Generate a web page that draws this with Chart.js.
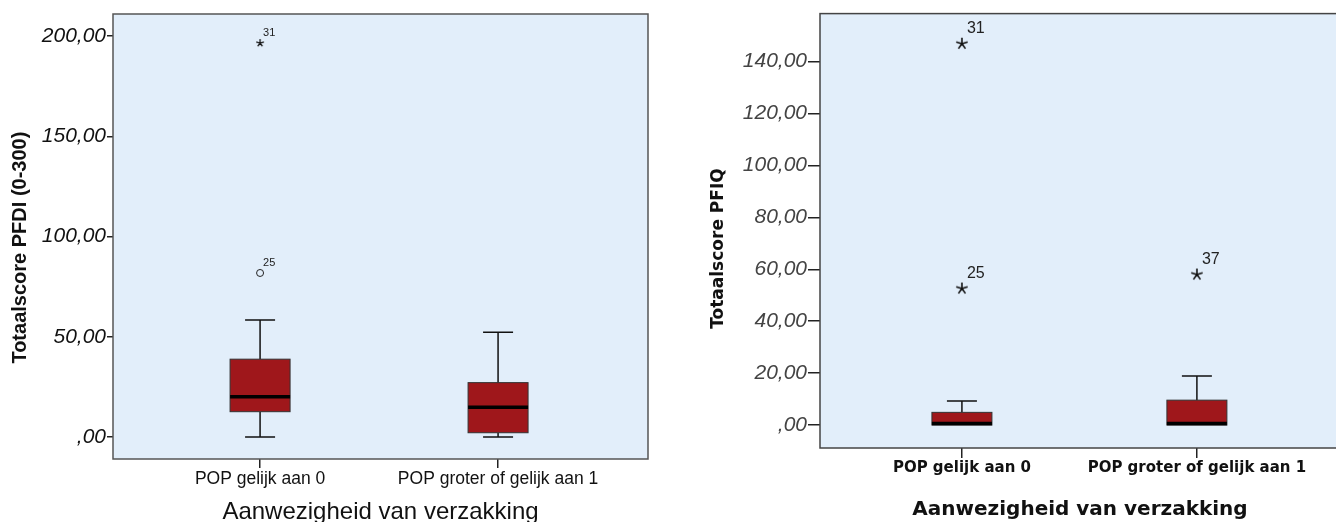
<!doctype html>
<html lang="nl">
<head>
  <meta charset="utf-8">
  <title>Totaalscore PFDI en PFIQ naar aanwezigheid van verzakking</title>
  <style>
    * {
      margin: 0;
      padding: 0;
    }
    body {
      width: 1336px;
      height: 522px;
      overflow: hidden;
      background: white;
      position: relative;
    }
    canvas {
      position: absolute;
      top: 0;
    }
    #pfdiChart { left: 0; }
    #pfiqChart { left: 668px; }
  </style>
</head>
<body>
  <canvas id="pfdiChart" width="668" height="522"></canvas>
  <canvas id="pfiqChart" width="679" height="522"></canvas>

  <script src="https://cdn.jsdelivr.net/npm/chart.js"></script>
  <script>
    // categories (x axis)
    const categories = ['POP gelijk aan 0', 'POP groter of gelijk aan 1'];

    // PFDI (0-300), left chart
    const pfdiMin = [0, 0];
    const pfdiQ1 = [12.6, 2.1];
    const pfdiMedian = [20.1, 14.8];
    const pfdiQ3 = [38.8, 27.1];
    const pfdiMax = [58.4, 52.2];
    const pfdiOutlierCat = [1, 1];
    const pfdiOutlierValues = [196.5, 81.8];
    const pfdiOutlierCases = ['31', '25'];
    const pfdiOutlierExtreme = [true, false];
    const pfdiTicks = [0, 50, 100, 150, 200];

    // PFIQ, right chart
    const pfiqMin = [0, 0];
    const pfiqQ1 = [0, 0];
    const pfiqMedian = [0, 0];
    const pfiqQ3 = [4.9, 9.6];
    const pfiqMax = [9.3, 18.9];
    const pfiqOutlierCat = [1, 1, 2];
    const pfiqOutlierValues = [146.9, 52.6, 58.0];
    const pfiqOutlierCases = ['31', '25', '37'];
    const pfiqOutlierExtreme = [true, true, true];
    const pfiqTicks = [0, 20, 40, 60, 80, 100, 120, 140];

    const plotBg = '#e2eefa';
    const boxColor = '#9f171b';
    const nbsp = n => '\u00a0'.repeat(n);

    // SPSS style number format: 50,00 and ,00
    const fmt = v => v === 0 ? ',00' : v.toFixed(2).replace('.', ',');

    // asterisk used for extreme values
    function starImage(r, lw) {
      const c = document.createElement('canvas');
      c.width = c.height = Math.ceil(2 * r + 2);
      const g = c.getContext('2d');
      g.strokeStyle = '#111';
      g.lineWidth = lw;
      g.beginPath();
      for (let k = 0; k < 5; k++) {
        const a = -Math.PI / 2 + k * 2 * Math.PI / 5;
        g.moveTo(c.width / 2, c.height / 2);
        g.lineTo(c.width / 2 + r * Math.cos(a), c.height / 2 + r * Math.sin(a));
      }
      g.stroke();
      return c;
    }

    // draws background, boxes, whiskers, case labels and frame with the chart scales
    function boxPlotPlugin(stats, opt) {
      return {
        id: 'boxPlot',
        beforeDraw(chart) {
          const { ctx, chartArea: a } = chart;
          ctx.save();
          ctx.fillStyle = plotBg;
          ctx.fillRect(a.left, a.top, a.right - a.left, a.bottom - a.top);
          ctx.restore();
        },
        beforeDatasetsDraw(chart) {
          const { ctx, scales: { x, y } } = chart;
          ctx.save();
          stats.median.forEach((m, i) => {
            const cx = x.getPixelForValue(i + 1);
            const half = 30, cap = 15;
            const yMin = y.getPixelForValue(stats.min[i]);
            const yQ1 = y.getPixelForValue(stats.q1[i]);
            const yMed = y.getPixelForValue(m);
            const yQ3 = y.getPixelForValue(stats.q3[i]);
            const yMax = y.getPixelForValue(stats.max[i]);

            ctx.strokeStyle = '#111';
            ctx.lineWidth = 1.5;
            ctx.beginPath();
            ctx.moveTo(cx, yQ3); ctx.lineTo(cx, yMax);
            ctx.moveTo(cx - cap, yMax); ctx.lineTo(cx + cap, yMax);
            if (yQ1 !== yMin) {
              ctx.moveTo(cx, yQ1); ctx.lineTo(cx, yMin);
              ctx.moveTo(cx - cap, yMin); ctx.lineTo(cx + cap, yMin);
            }
            ctx.stroke();

            ctx.fillStyle = boxColor;
            ctx.fillRect(cx - half, yQ3, 2 * half, yQ1 - yQ3);
            ctx.strokeStyle = '#333';
            ctx.lineWidth = 1;
            ctx.strokeRect(cx - half, yQ3, 2 * half, yQ1 - yQ3);

            ctx.strokeStyle = '#000';
            ctx.lineWidth = 3.5;
            ctx.beginPath();
            ctx.moveTo(cx - half, yMed - (yMed === yQ1 ? 1.5 : 0));
            ctx.lineTo(cx + half, yMed - (yMed === yQ1 ? 1.5 : 0));
            ctx.stroke();
          });
          ctx.restore();
        },
        afterDatasetsDraw(chart) {
          const { ctx, chartArea: a } = chart;
          const meta = chart.getDatasetMeta(0);
          ctx.save();
          ctx.font = opt.labelFont;
          ctx.fillStyle = '#222';
          ctx.textBaseline = 'middle';
          meta.data.forEach((pt, i) => {
            ctx.fillText(opt.cases[i], pt.x + opt.dx, pt.y + opt.dy);
          });
          ctx.strokeStyle = opt.frame;
          ctx.lineWidth = 1.5;
          ctx.strokeRect(a.left, a.top, a.right - a.left, a.bottom - a.top);
          ctx.restore();
        }
      };
    }

    function makeChart(id, s) {
      const config = {
        type: 'scatter',
        data: {
          datasets: [{
            data: s.outCat.map((c, i) => ({ x: c, y: s.outVal[i] })),
            pointStyle: s.extreme.map(e => e ? s.star : 'circle'),
            pointRadius: s.pointRadius,
            borderColor: '#222',
            borderWidth: 1,
            backgroundColor: 'rgba(0,0,0,0)'
          }]
        },
        options: {
          responsive: false,
          animation: false,
          layout: { padding: s.padding },
          plugins: {
            legend: { display: false },
            tooltip: { enabled: false }
          },
          scales: {
            x: {
              type: 'linear',
              min: s.xMin,
              max: s.xMax,
              afterBuildTicks: sc => { sc.ticks = [1, 2].map(v => ({ value: v })); },
              afterFit: sc => { sc.height = s.xHeight; },
              ticks: {
                callback: v => categories[v - 1],
                font: s.xTickFont,
                color: '#111',
                padding: 1,
                maxRotation: 0,
                autoSkip: false
              },
              grid: { drawOnChartArea: false, drawTicks: true, tickLength: s.xTickLen, color: '#222', lineWidth: 1.5 },
              border: { display: false },
              title: {
                display: true,
                text: 'Aanwezigheid van verzakking',
                font: s.xTitleFont,
                color: '#111',
                padding: { top: 0, bottom: s.xTitlePad }
              }
            },
            y: {
              type: 'linear',
              min: s.yMin,
              max: s.yMax,
              afterBuildTicks: sc => { sc.ticks = s.ticks.map(v => ({ value: v })); },
              afterFit: sc => { sc.width = s.yWidth; },
              ticks: {
                callback: fmt,
                font: s.yTickFont,
                color: s.yTickColor,
                padding: 1
              },
              grid: { drawOnChartArea: false, drawTicks: true, tickLength: s.yTickLen, color: '#222', lineWidth: 1.5 },
              border: { display: false },
              title: {
                display: true,
                text: s.yTitle,
                font: s.yTitleFont,
                color: '#111',
                padding: { top: s.yTitlePad, bottom: 0 }
              }
            }
          }
        },
        plugins: [boxPlotPlugin(s.stats, s.labelOpt)]
      };
      return new Chart(document.getElementById(id), config);
    }

    makeChart('pfdiChart', {
      stats: { min: pfdiMin, q1: pfdiQ1, median: pfdiMedian, q3: pfdiQ3, max: pfdiMax },
      outCat: pfdiOutlierCat,
      outVal: pfdiOutlierValues,
      extreme: pfdiOutlierExtreme,
      star: starImage(4, 1.3),
      pointRadius: 3.5,
      ticks: pfdiTicks,
      padding: { top: 14, right: 20, left: 0, bottom: 0 },
      xMin: 0.382, xMax: 2.63,
      yMin: -11, yMax: 211,
      xHeight: 63, yWidth: 113,
      xTickLen: 9, yTickLen: 6,
      xTickFont: { family: '"Liberation Sans", Arial, sans-serif', size: 17.5 },
      xTitleFont: { family: '"Liberation Sans", Arial, sans-serif', size: 24, lineHeight: 1 },
      xTitlePad: -2,
      yTickFont: { family: '"Liberation Sans", Arial, sans-serif', size: 21, style: 'italic' },
      yTickColor: '#111',
      yTitle: 'Totaalscore PFDI (0-300)' + nbsp(4),
      yTitleFont: { family: '"Liberation Sans", Arial, sans-serif', size: 20, weight: 'bold', lineHeight: 1 },
      yTitlePad: 10,
      labelOpt: { cases: pfdiOutlierCases, labelFont: '11px "Liberation Sans", Arial, sans-serif', dx: 3, dy: -10, frame: '#555' }
    });

    makeChart('pfiqChart', {
      stats: { min: pfiqMin, q1: pfiqQ1, median: pfiqMedian, q3: pfiqQ3, max: pfiqMax },
      outCat: pfiqOutlierCat,
      outVal: pfiqOutlierValues,
      extreme: pfiqOutlierExtreme,
      star: starImage(6, 1.6),
      pointRadius: 6,
      ticks: pfiqTicks,
      padding: { top: 12, right: 0, left: 0, bottom: 0 },
      xMin: 0.396, xMax: 2.609,
      yMin: -8.83, yMax: 158.5,
      xHeight: 74, yWidth: 152,
      xTickLen: 10, yTickLen: 12,
      xTickFont: { family: '"DejaVu Sans", Verdana, sans-serif', size: 15, weight: 'bold' },
      xTitleFont: { family: '"DejaVu Sans", Verdana, sans-serif', size: 20, weight: 'bold', lineHeight: 1 },
      xTitlePad: 2,
      yTickFont: { family: '"Liberation Sans", Arial, sans-serif', size: 21, style: 'italic' },
      yTickColor: '#444',
      yTitle: 'Totaalscore PFIQ' + nbsp(6),
      yTitleFont: { family: '"DejaVu Sans", Verdana, sans-serif', size: 17, weight: 'bold', lineHeight: 1 },
      yTitlePad: 42,
      labelOpt: { cases: pfiqOutlierCases, labelFont: '16px "Liberation Sans", Arial, sans-serif', dx: 5, dy: -15, frame: '#444' }
    });
  </script>
</body>
</html>
